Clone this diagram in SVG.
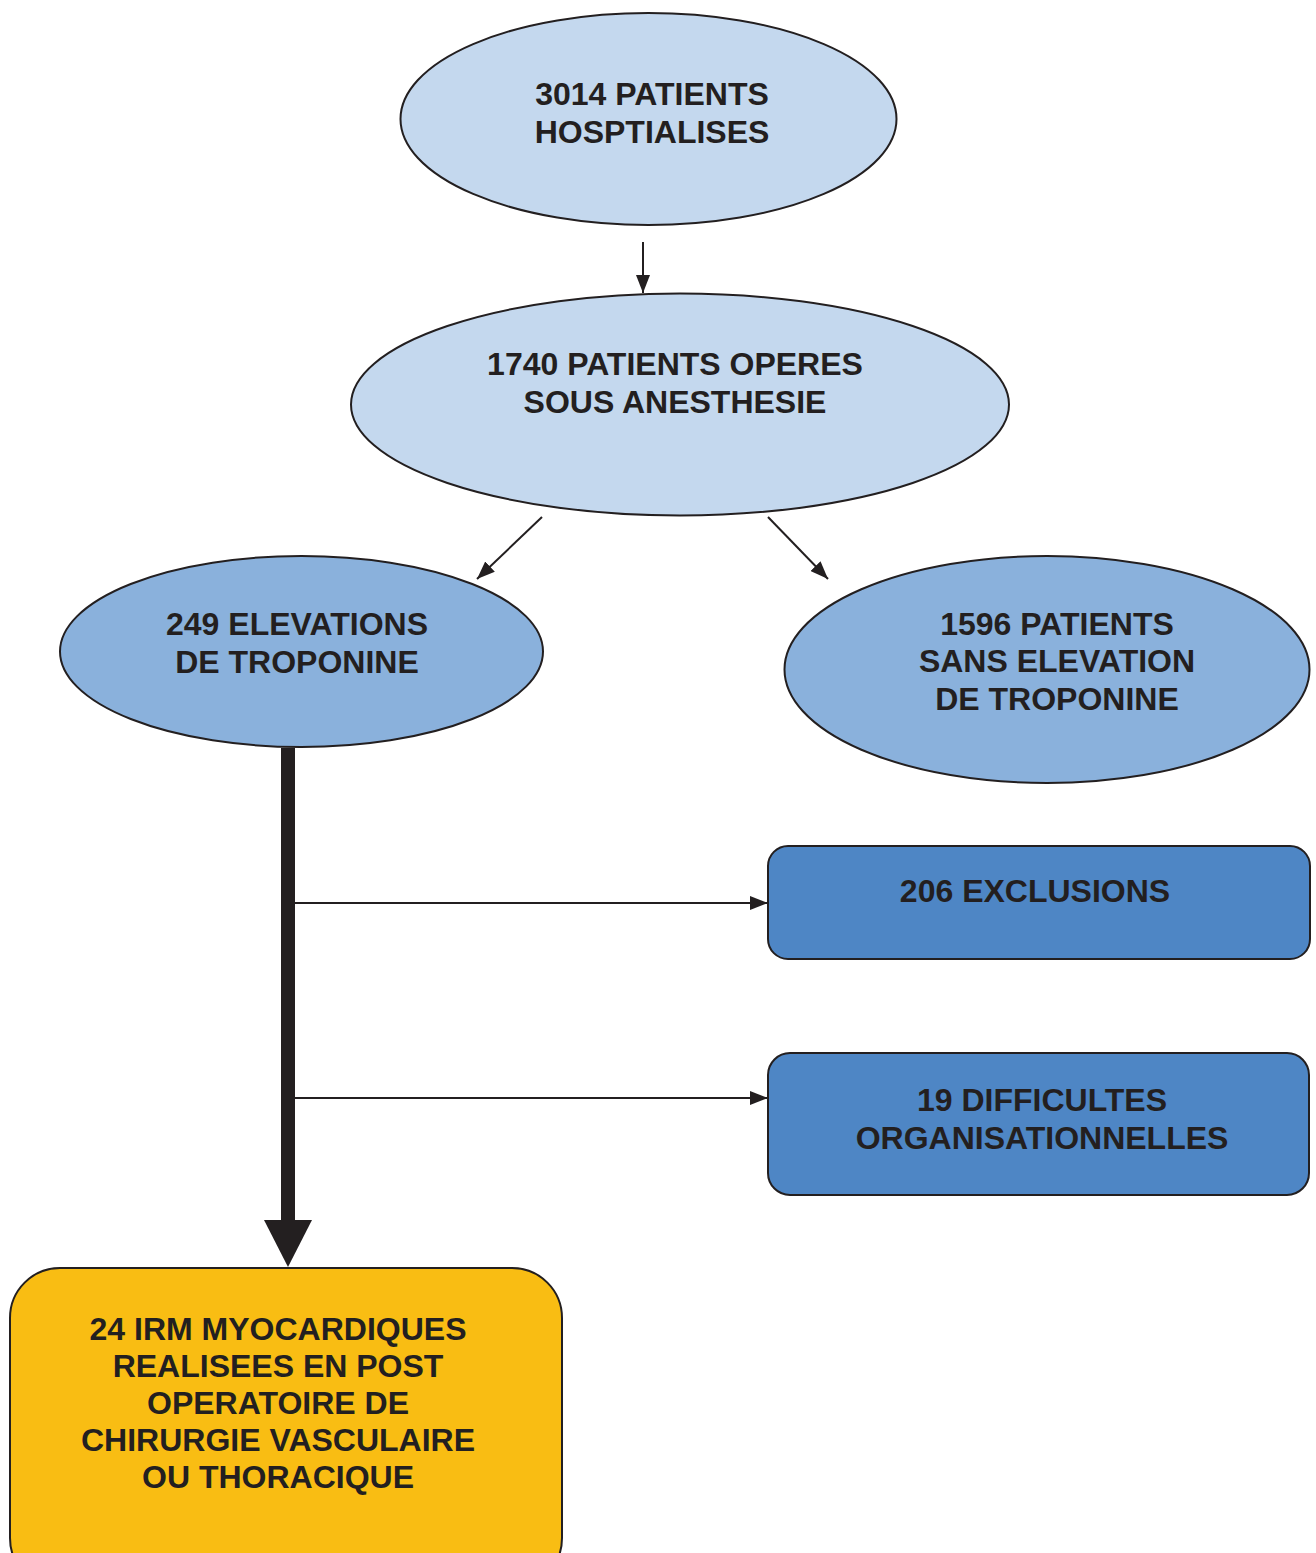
<svg xmlns="http://www.w3.org/2000/svg" width="1316" height="1553" viewBox="0 0 1316 1553">
<style>
.n{stroke:#231f20;stroke-width:2}
.l1{fill:#c4d8ee}
.l2{fill:#8ab1dc}
.b{fill:#4e86c5}
.y{fill:#f9bd13}
text{font-family:"Liberation Sans",Arial,sans-serif;font-weight:bold;font-size:32px;fill:#231f20;text-anchor:middle}
.c{stroke:#231f20;stroke-width:2;fill:none}
</style>
<defs>
<marker id="a2" viewBox="0 0 18 14" refX="18" refY="7" markerWidth="18" markerHeight="14" markerUnits="userSpaceOnUse" orient="auto">
<path d="M0,0 L18,7 L0,14 z" fill="#231f20"/>
</marker>
</defs>
<rect width="1316" height="1553" fill="#fff"/>
<g id="connectors">
<line class="c" x1="643" y1="242" x2="643" y2="293" marker-end="url(#a2)"/>
<line class="c" x1="542" y1="517" x2="477" y2="579" marker-end="url(#a2)"/>
<line class="c" x1="768" y1="517" x2="828" y2="579" marker-end="url(#a2)"/>
<rect x="281" y="748" width="14" height="474" fill="#231f20"/>
<path d="M264,1220 L312,1220 L288,1267 z" fill="#231f20"/>
<line class="c" x1="295" y1="903" x2="768" y2="903" marker-end="url(#a2)"/>
<line class="c" x1="295" y1="1098" x2="768" y2="1098" marker-end="url(#a2)"/>
</g>
<g id="n1">
<ellipse class="n l1" cx="648.5" cy="119" rx="248" ry="106"/>
<text x="652" y="105">3014 PATIENTS</text>
<text x="652" y="143">HOSPTIALISES</text>
</g>
<g id="n2">
<ellipse class="n l1" cx="680" cy="404.5" rx="329" ry="111"/>
<text x="675" y="375">1740 PATIENTS OPERES</text>
<text x="675" y="413">SOUS ANESTHESIE</text>
</g>
<g id="n3">
<ellipse class="n l2" cx="301.5" cy="651.5" rx="241.5" ry="95.5"/>
<text x="297" y="635">249 ELEVATIONS</text>
<text x="297" y="673">DE TROPONINE</text>
</g>
<g id="n4">
<ellipse class="n l2" cx="1047" cy="669.5" rx="262.5" ry="113.5"/>
<text x="1057" y="635">1596 PATIENTS</text>
<text x="1057" y="672">SANS ELEVATION</text>
<text x="1057" y="710">DE TROPONINE</text>
</g>
<g id="n5">
<rect class="n b" x="768" y="846" width="542" height="113" rx="20"/>
<text x="1035" y="902">206 EXCLUSIONS</text>
</g>
<g id="n6">
<rect class="n b" x="768" y="1053" width="541" height="142" rx="22"/>
<text x="1042" y="1111">19 DIFFICULTES</text>
<text x="1042" y="1149">ORGANISATIONNELLES</text>
</g>
<g id="n7">
<rect class="n y" x="10" y="1268" width="552" height="320" rx="50"/>
<text x="278" y="1340">24 IRM MYOCARDIQUES</text>
<text x="278" y="1377">REALISEES EN POST</text>
<text x="278" y="1414">OPERATOIRE DE</text>
<text x="278" y="1451">CHIRURGIE VASCULAIRE</text>
<text x="278" y="1488">OU THORACIQUE</text>
</g>
</svg>
